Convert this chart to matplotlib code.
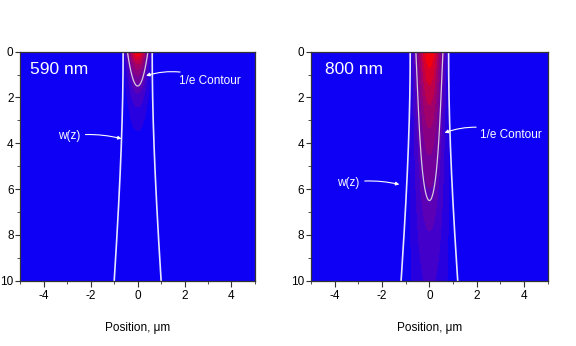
import numpy as np
import matplotlib.pyplot as plt
from matplotlib.colors import LinearSegmentedColormap
from matplotlib.ticker import MultipleLocator

plt.rcParams.update({
    'font.family': ['Liberation Sans', 'DejaVu Sans'],
    'font.size': 8.5,
    'xtick.labelsize': 8.5,
    'ytick.labelsize': 8.5,
    'xtick.direction': 'out',
    'ytick.direction': 'out',
    'xtick.major.size': 4,
    'ytick.major.size': 3.5,
    'xtick.minor.size': 2.5,
    'ytick.minor.size': 2.5,
    'axes.linewidth': 0.9,
    'axes.edgecolor': '#333333',
})

# Gaussian beam penetrating into the sample (all lengths in µm)
wavelengths = ['590 nm', '800 nm']
waist = [0.62, 0.81]        # w0 at the surface
rayleigh = [7.9, 9.2]       # Rayleigh range z_R
depth = [1.5, 6.5]          # on-axis 1/e intensity depth
levels = np.linspace(0, 1, 11)

cmap = LinearSegmentedColormap.from_list(
    'blue_red', [(0, '#0000ff'), (0.3, '#5000c0'), (0.65, '#a0006a'), (1, '#ff0000')])

x = np.linspace(-5, 5, 501)
z = np.linspace(0, 10, 501)
X, Z = np.meshgrid(x, z)

fig = plt.figure(figsize=(5.76, 3.46), dpi=100)
axes = [fig.add_axes([0.0355, 0.1887, 0.407, 0.662]),
        fig.add_axes([0.540, 0.1887, 0.411, 0.662])]

# label / arrow placement per panel
w_note = [((-2.94, 3.68), (-0.69, 3.8)), ((-3.44, 5.72), (-1.27, 5.8))]
e_note = [((1.78, 1.28), (0.36, 1.05)), ((2.15, 3.64), (0.64, 3.54))]
title_x = [-4.6, -4.42]

for i, ax in enumerate(axes):
    wz = waist[i] * np.sqrt(1 + (z / rayleigh[i]) ** 2)
    W = waist[i] * np.sqrt(1 + (Z / rayleigh[i]) ** 2)
    field = np.exp(-2 * X ** 2 / W ** 2) * np.exp(-Z / depth[i])

    ax.set_facecolor('#0000ff')
    ax.contourf(X, Z, field, levels=levels, cmap=cmap)
    ax.contour(X, Z, field, levels=[np.exp(-1)], colors='#d8c8dc', linewidths=0.9)
    ax.plot(wz, z, color='#e6e6ff', lw=1.2)
    ax.plot(-wz, z, color='#e6e6ff', lw=1.2)

    ax.set_xlim(-5, 5)
    ax.set_ylim(10, 0)
    ax.xaxis.set_minor_locator(MultipleLocator(1))
    ax.yaxis.set_major_locator(MultipleLocator(2))
    ax.yaxis.set_minor_locator(MultipleLocator(1))
    ax.tick_params(which='both', color='#333333')
    ax.tick_params(axis='x', pad=3)
    ax.tick_params(axis='y', pad=1.5)
    ax.set_xticks([-4, -2, 0, 2, 4])
    ax.set_xticklabels(['-4', '-2', '0', '2', '4'])
    ax.set_xlabel('Position, \u03bcm', labelpad=14)

    ax.text(title_x[i], 0.98, wavelengths[i], color='white',
            fontsize=12.5, ha='left', va='baseline')

    (tx, ty), (hx, hy) = w_note[i]
    ax.annotate('w(z)', xy=(hx, hy), xytext=(tx, ty), color='white',
                fontsize=8.5, ha='center', va='center',
                arrowprops=dict(arrowstyle='-|>', color='white', lw=0.8,
                                mutation_scale=5, shrinkA=2, shrinkB=0,
                                connectionstyle='arc3,rad=-0.1'))
    (tx, ty), (hx, hy) = e_note[i]
    ax.annotate('1/e Contour', xy=(hx, hy), xytext=(tx, ty), color='white',
                fontsize=8.5, ha='left', va='center',
                arrowprops=dict(arrowstyle='-|>', color='white', lw=0.8,
                                mutation_scale=5, shrinkA=1, shrinkB=0,
                                connectionstyle='arc3,rad=0.2'))

fig.savefig('out.png', dpi=100)
